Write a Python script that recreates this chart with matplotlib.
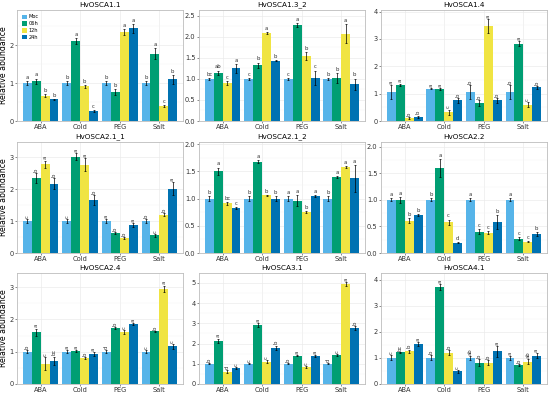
import matplotlib.pyplot as plt
import numpy as np

conditions = ["ABA", "Cold", "PEG", "Salt"]
times = ["Moc", "06h", "12h", "24h"]
colors = ["#56B4E9", "#009E73", "#F0E442", "#0072B2"]

genes = ["HvOSCA1.1", "HvOSCA1.3_2", "HvOSCA1.4",
         "HvOSCA2.1_1", "HvOSCA2.1_2", "HvOSCA2.2",
         "HvOSCA2.4", "HvOSCA3.1", "HvOSCA4.1"]

# means[gene] -> rows = conditions, cols = times
means = {
    "HvOSCA1.1": [[1.0, 1.05, 0.67, 0.57], [1.0, 2.10, 0.92, 0.27], [1.0, 0.77, 2.35, 2.45], [1.0, 1.78, 0.40, 1.10]],
    "HvOSCA1.3_2": [[1.0, 1.15, 0.90, 1.25], [1.0, 1.33, 2.09, 1.43], [1.0, 2.28, 1.55, 1.03], [1.0, 1.03, 2.08, 0.87]],
    "HvOSCA1.4": [[1.05, 1.32, 0.10, 0.15], [1.18, 1.18, 0.32, 0.75], [1.05, 0.65, 3.48, 0.75], [1.05, 2.83, 0.60, 1.23]],
    "HvOSCA2.1_1": [[1.0, 2.35, 2.78, 2.17], [1.0, 3.02, 2.77, 1.67], [1.0, 0.62, 0.48, 0.88], [1.0, 0.55, 1.20, 2.02]],
    "HvOSCA2.1_2": [[1.0, 1.50, 0.91, 0.82], [1.0, 1.68, 1.06, 1.00], [1.0, 0.96, 0.75, 1.05], [1.0, 1.40, 1.58, 1.37]],
    "HvOSCA2.2": [[1.0, 1.00, 0.61, 0.71], [1.0, 1.60, 0.58, 0.19], [1.0, 0.40, 0.38, 0.59], [1.0, 0.27, 0.21, 0.36]],
    "HvOSCA2.4": [[1.0, 1.60, 0.63, 0.72], [1.0, 1.03, 0.80, 0.93], [1.0, 1.73, 1.60, 1.85], [1.0, 1.63, 2.95, 1.17]],
    "HvOSCA3.1": [[1.0, 2.15, 0.60, 0.80], [1.0, 2.90, 1.10, 1.80], [1.0, 1.40, 0.85, 1.37], [1.0, 1.45, 4.95, 2.75]],
    "HvOSCA4.1": [[1.0, 1.22, 1.25, 1.53], [1.0, 3.70, 1.20, 0.48], [1.0, 0.82, 0.82, 1.25], [1.0, 0.72, 0.85, 1.08]],
}
errors = {
    "HvOSCA1.1": [[0.05, 0.07, 0.04, 0.02], [0.05, 0.08, 0.04, 0.02], [0.05, 0.08, 0.08, 0.12], [0.05, 0.15, 0.02, 0.12]],
    "HvOSCA1.3_2": [[0.02, 0.05, 0.04, 0.10], [0.02, 0.06, 0.03, 0.01], [0.02, 0.05, 0.10, 0.17], [0.02, 0.12, 0.23, 0.14]],
    "HvOSCA1.4": [[0.25, 0.05, 0.03, 0.05], [0.02, 0.03, 0.10, 0.10], [0.25, 0.10, 0.25, 0.10], [0.25, 0.08, 0.10, 0.05]],
    "HvOSCA2.1_1": [[0.07, 0.15, 0.12, 0.17], [0.07, 0.10, 0.20, 0.15], [0.07, 0.03, 0.03, 0.05], [0.07, 0.04, 0.05, 0.20]],
    "HvOSCA2.1_2": [[0.05, 0.07, 0.03, 0.02], [0.05, 0.03, 0.01, 0.05], [0.05, 0.10, 0.02, 0.02], [0.05, 0.02, 0.01, 0.25]],
    "HvOSCA2.2": [[0.03, 0.06, 0.05, 0.02], [0.03, 0.17, 0.05, 0.01], [0.03, 0.05, 0.03, 0.13], [0.03, 0.03, 0.01, 0.04]],
    "HvOSCA2.4": [[0.04, 0.12, 0.20, 0.13], [0.04, 0.03, 0.03, 0.05], [0.04, 0.03, 0.06, 0.03], [0.04, 0.02, 0.10, 0.07]],
    "HvOSCA3.1": [[0.03, 0.10, 0.08, 0.05], [0.03, 0.10, 0.08, 0.10], [0.03, 0.03, 0.05, 0.05], [0.03, 0.05, 0.10, 0.10]],
    "HvOSCA4.1": [[0.10, 0.02, 0.07, 0.08], [0.10, 0.12, 0.10, 0.05], [0.08, 0.12, 0.10, 0.20], [0.08, 0.03, 0.10, 0.10]],
}
letters = {
    "HvOSCA1.1": [["a", "a", "b", "b"], ["b", "a", "b", "c"], ["b", "b", "a", "a"], ["b", "a", "c", "b"]],
    "HvOSCA1.3_2": [["bc", "ab", "c", "a"], ["c", "b", "a", "b"], ["c", "a", "b", "c"], ["b", "b", "a", "b"]],
    "HvOSCA1.4": [["a", "a", "b", "b"], ["a", "a", "c", "b"], ["b", "b", "a", "b"], ["b", "a", "c", "b"]],
    "HvOSCA2.1_1": [["c", "b", "a", "b"], ["c", "a", "a", "b"], ["a", "b", "b", "a"], ["b", "c", "b", "a"]],
    "HvOSCA2.1_2": [["b", "a", "bc", "c"], ["b", "a", "b", "b"], ["a", "a", "b", "a"], ["b", "a", "a", "a"]],
    "HvOSCA2.2": [["a", "a", "b", "b"], ["b", "a", "c", "d"], ["a", "c", "c", "b"], ["a", "c", "c", "b"]],
    "HvOSCA2.4": [["b", "a", "c", "bc"], ["a", "a", "b", "a"], ["d", "b", "c", "a"], ["c", "b", "a", "c"]],
    "HvOSCA3.1": [["b", "a", "d", "c"], ["c", "a", "c", "b"], ["b", "a", "c", "a"], ["d", "c", "a", "b"]],
    "HvOSCA4.1": [["c", "bc", "b", "a"], ["b", "a", "b", "c"], ["ab", "b", "b", "a"], ["a", "b", "ab", "a"]],
}
ymax = {"HvOSCA1.1": 2.93, "HvOSCA1.3_2": 2.64, "HvOSCA1.4": 4.06,
        "HvOSCA2.1_1": 3.48, "HvOSCA2.1_2": 2.04, "HvOSCA2.2": 2.09,
        "HvOSCA2.4": 3.44, "HvOSCA3.1": 5.49, "HvOSCA4.1": 4.25}
yticks = {"HvOSCA1.1": [0, 1, 2], "HvOSCA1.3_2": [0.0, 0.5, 1.0, 1.5, 2.0, 2.5],
          "HvOSCA1.4": [0, 1, 2, 3, 4], "HvOSCA2.1_1": [0, 1, 2, 3],
          "HvOSCA2.1_2": [0.0, 0.5, 1.0, 1.5, 2.0], "HvOSCA2.2": [0.0, 0.5, 1.0, 1.5, 2.0],
          "HvOSCA2.4": [0, 1, 2, 3], "HvOSCA3.1": [0, 1, 2, 3, 4, 5], "HvOSCA4.1": [0, 1, 2, 3, 4]}
rotated = ["HvOSCA1.4", "HvOSCA2.1_1", "HvOSCA2.4", "HvOSCA3.1", "HvOSCA4.1"]

W, H = 550, 395
fig = plt.figure(figsize=(5.5, 3.95), dpi=100)
col_left = [17, 199, 381]
row_top = [10, 142, 273]
aw, ah = 166, 111

x = np.arange(len(conditions))
bw = 0.225
for i, g in enumerate(genes):
    r, c = divmod(i, 3)
    ax = fig.add_axes([col_left[c] / W, (H - row_top[r] - ah) / H, aw / W, ah / H])
    m = np.array(means[g])
    e = np.array(errors[g])
    for j in range(4):
        xs = x + (j - 1.5) * bw
        ax.bar(xs, m[:, j], width=bw, color=colors[j], label=times[j], zorder=2)
        ax.errorbar(xs, m[:, j], yerr=e[:, j], fmt="none", ecolor="black",
                    elinewidth=0.5, capsize=1, capthick=0.5, zorder=3)
        for k in range(4):
            lab = letters[g][k][j]
            ypos = m[k, j] + e[k, j] + ymax[g] * 0.01
            if g in rotated:
                ax.text(xs[k], ypos, lab, rotation=90, ha="center", va="bottom",
                        fontsize=3.8, color="#333333")
            else:
                ax.text(xs[k], ypos, lab, ha="center", va="bottom",
                        fontsize=3.8, color="#333333")
    ax.set_xlim(-0.6, 3.6)
    ax.set_ylim(0, ymax[g])
    ax.set_xticks(x)
    ax.set_xticklabels(conditions)
    ax.set_yticks(yticks[g])
    yt = yticks[g]
    if isinstance(yt[1], float):
        ax.set_yticklabels(["%.1f" % v for v in yt])
    mids = [(yt[n] + yt[n + 1]) / 2 for n in range(len(yt) - 1)]
    if yt[-1] + (yt[1] - yt[0]) / 2 < ymax[g]:
        mids.append(yt[-1] + (yt[1] - yt[0]) / 2)
    ax.set_yticks(mids, minor=True)
    ax.tick_params(axis="both", which="major", labelsize=4.8, length=1.5,
                   width=0.4, pad=1, colors="#333333")
    ax.tick_params(axis="y", which="minor", length=0)
    ax.grid(True, which="major", color="#ebebeb", linewidth=0.5, zorder=0)
    ax.grid(True, which="minor", axis="y", color="#f4f4f4", linewidth=0.3, zorder=0)
    ax.set_axisbelow(True)
    for s in ax.spines.values():
        s.set_color("#bdbdbd")
        s.set_linewidth(0.6)
    ax.set_title(g, fontsize=5.2, pad=2.5)
    if c == 0:
        ax.set_ylabel("Relative abundance", fontsize=5.6)
        ax.yaxis.set_label_coords(-8.5 / aw, 0.5)
    if i == 0:
        ax.legend(loc="upper left", fontsize=3.6, frameon=False,
                  handlelength=1.0, handleheight=1.0, labelspacing=0.35,
                  handletextpad=0.4, borderaxespad=0.5)

fig.savefig("out.png", dpi=100)
